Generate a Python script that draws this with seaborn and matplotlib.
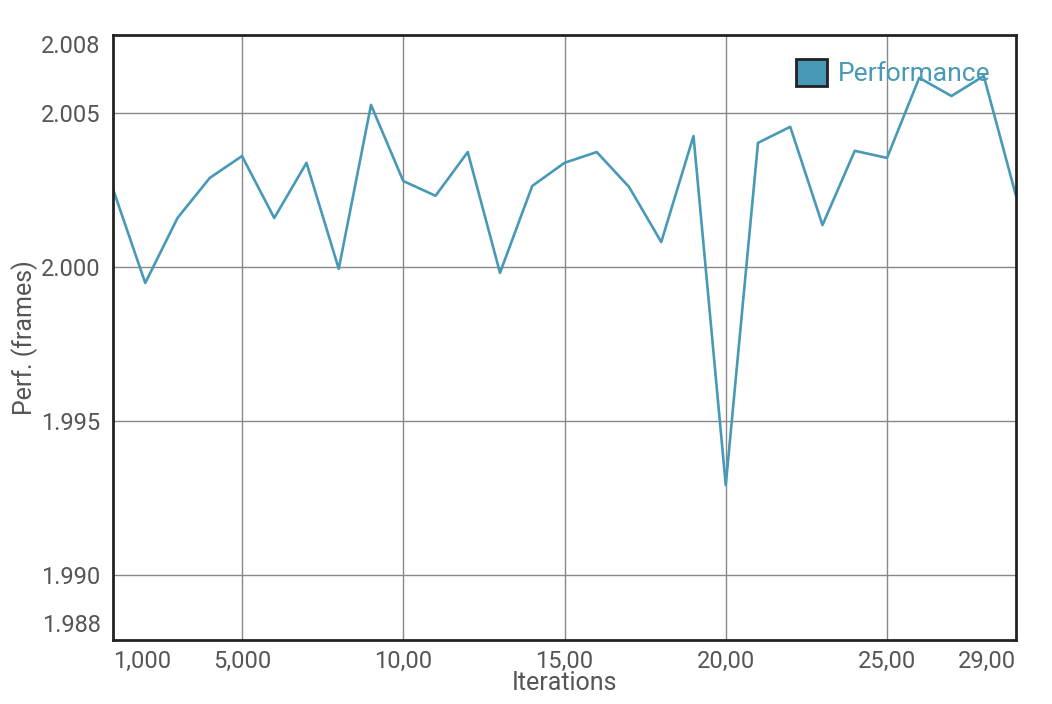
import numpy as np
import pandas as pd
import matplotlib
matplotlib.use("Agg")
import matplotlib.pyplot as plt
import matplotlib.patches as mpatches
import seaborn as sns

# values
iterations = list(range(1000, 30000, 1000))
perf = [2.00253, 1.99948, 2.00159, 2.00289, 2.00360, 2.00159, 2.00338, 1.99994,
        2.00526, 2.00279, 2.00231, 2.00373, 1.99981, 2.00263, 2.00338, 2.00373,
        2.00260, 2.00081, 2.00425, 1.99292, 2.00403, 2.00455, 2.00136, 2.00377,
        2.00354, 2.00614, 2.00555, 2.00620, 2.00231]
x_ticks = [1000, 5000, 10000, 15000, 20000, 25000, 29000]
x_labels = ["1,000", "5,000", "10,00", "15,00", "20,00", "25,00", "29,00"]
y_ticks = [1.988, 1.990, 1.995, 2.000, 2.005, 2.008]
y_labels = ["1.988", "1.990", "1.995", "2.000", "2.005", "2.008"]

df = pd.DataFrame({"Iterations": iterations, "Performance": perf})

sns.set_style("white")
plt.rcParams['font.family'] = ['Roboto', 'DejaVu Sans']

line_color = "#4899b7"
text_color = "#555555"

fig = plt.figure(figsize=(10.52, 7.04), dpi=100)
ax = fig.add_axes([113/1052, 1 - 640/704, (1016-113)/1052, (640-35)/704])

sns.lineplot(data=df, x="Iterations", y="Performance", ax=ax, color=line_color, linewidth=1.9)

y_lo, y_hi = 1.98789, 2.00753
ax.set_xticks(x_ticks)
ax.set_xticklabels(x_labels, fontsize=17, color=text_color)
# edge labels sit on the frame, so keep their positions inside the view
ax.set_yticks(np.clip(y_ticks, y_lo, y_hi))
ax.set_yticklabels(y_labels, fontsize=17, color=text_color)
ax.set_xlim(1000, 29000)
ax.set_ylim(y_lo, y_hi)

xl = ax.get_xticklabels()
xl[0].set_ha("left")
xl[-1].set_ha("right")
yl = ax.get_yticklabels()
yl[0].set_va("bottom")
yl[-1].set_va("top")
yl[0].set_y(y_lo + 0.0001)
yl[-1].set_y(y_hi - 0.0001)

ax.tick_params(axis="x", length=0, pad=7)
ax.tick_params(axis="y", length=5, width=1, color="#888888", pad=4)

# grid only at inner ticks
for xv in x_ticks[1:-1]:
    ax.axvline(xv, color="#888888", linewidth=1, zorder=0)
for yv in y_ticks[1:-1]:
    ax.axhline(yv, color="#888888", linewidth=1, zorder=0)

for s in ax.spines.values():
    s.set_color("#222222")
    s.set_linewidth(2)

ax.set_xlabel("Iterations", fontsize=18, color=text_color, labelpad=-1)
ax.set_ylabel("Perf. (frames)", fontsize=18, color=text_color, labelpad=2)

handle = mpatches.Patch(facecolor=line_color, edgecolor="#222222", linewidth=2, label="Performance")
leg = ax.legend(handles=[handle], loc="upper right", frameon=False, fontsize=19,
                handlelength=1.2, handleheight=1.2, handletextpad=0.4,
                bbox_to_anchor=(0.998, 1.0))
for t in leg.get_texts():
    t.set_color(line_color)

fig.savefig("out.png", dpi=100)
